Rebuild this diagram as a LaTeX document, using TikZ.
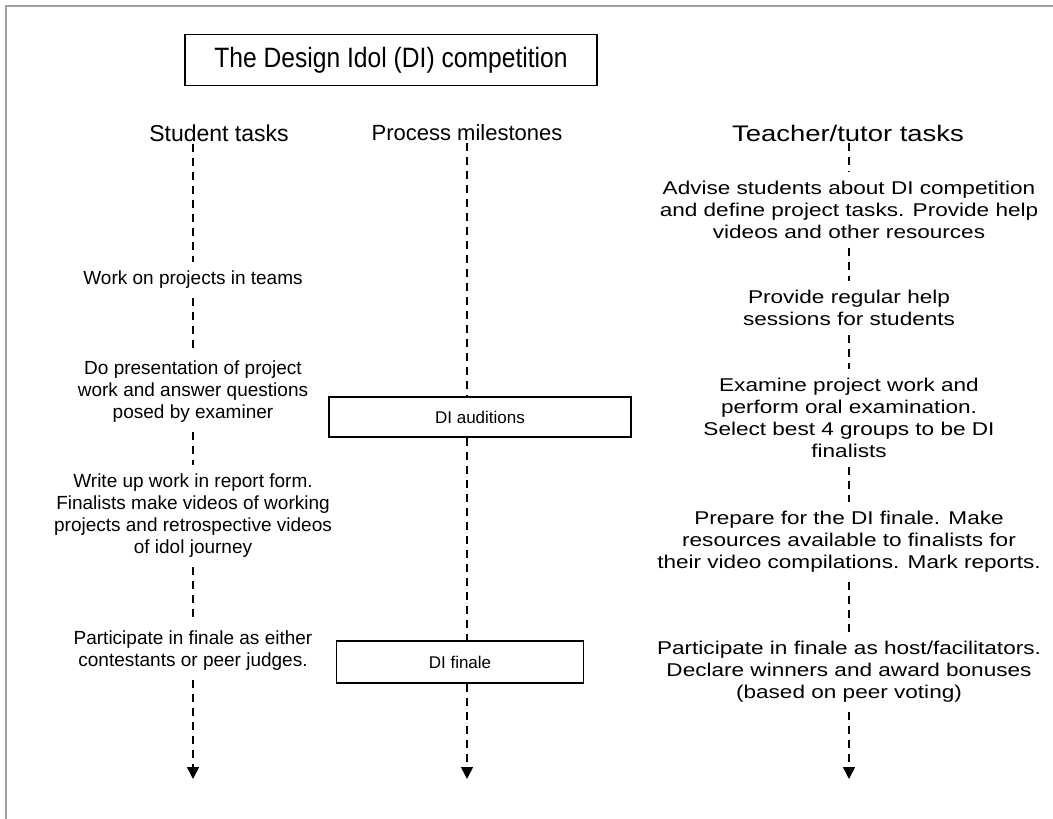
\documentclass[tikz,border=0pt]{standalone}
\usepackage{fontspec}
\setmainfont{Liberation Sans}
\newfontfamily\anchafont[FakeStretch=1.22]{Liberation Sans}
\newfontfamily\titulofont[FakeStretch=0.88]{Liberation Sans}
\usetikzlibrary{arrows.meta, positioning}
\definecolor{marco}{RGB}{160,160,160}

\begin{document}
\begin{tikzpicture}[
        x=1pt, y=-1pt,
        tarea/.style={align=center, font=\fontsize{19}{22}\selectfont, inner xsep=2pt, inner ysep=9pt},
        tareadoc/.style={tarea, font=\anchafont\fontsize{18.5}{22}\selectfont},
        cabeza/.style={font=\fontsize{23}{27}\selectfont, inner sep=2pt},
        hito/.style={draw, line width=1.5pt, minimum height=40pt, font=\fontsize{17}{22}\selectfont},
        linea/.style={line width=1.6pt, dash pattern=on 8pt off 6pt},
        flecha/.style={linea, -{Triangle[width=12pt, length=12pt]}}
    ]
    \useasboundingbox (0,0) rectangle (1053,819);
    \draw[marco, line width=2pt] (6,819) -- (6,6) -- (1053,6);

    \node[draw, line width=1.5pt, minimum width=412pt, minimum height=51pt, font=\titulofont\fontsize{28}{32}\selectfont] (titulo) at (391,60) {The Design Idol (DI) competition};

    % cabeceras
    \node[cabeza] (hest) at (219,133) {Student tasks};
    \node[cabeza, font=\fontsize{22}{27}\selectfont] (hpro) at (467,133) {Process milestones};
    \node[cabeza, font=\anchafont\fontsize{22.5}{27}\selectfont] (hdoc) at (848,133) {Teacher/tutor tasks};

    % tareas de alumnos
    \node[tarea] (work) at (193,280) {Work on projects in teams};
    \node[tarea] (pres) at (193,392) {Do presentation of project\\work and answer questions\\posed by examiner};
    \node[tarea] (repo) at (193,516) {Write up work in report form.\\Finalists make videos of working\\projects and retrospective videos\\of idol journey};
    \node[tarea] (pest) at (193,651) {Participate in finale as either\\contestants or peer judges.};
    \coordinate (fest) at (193,779);

    % hitos
    \node[hito, minimum width=302pt] (aud) at (480,417) {DI auditions};
    \node[hito, minimum width=247pt, minimum height=42pt] (fin) at (460,662) {DI finale};
    \coordinate (fpro) at (467,779);

    % tareas de docentes
    \node[tareadoc] (advi) at (849,210) {Advise students about DI competition\\and define project tasks. Provide help\\videos and other resources};
    \node[tareadoc] (help) at (849,308) {Provide regular help\\sessions for students};
    \node[tareadoc] (exam) at (849,418) {Examine project work and\\perform oral examination.\\Select best 4 groups to be DI\\finalists};
    \node[tareadoc] (prep) at (849,542) {Prepare for the DI finale. Make\\resources available to finalists for\\their video compilations. Mark reports.};
    \node[tareadoc] (pdoc) at (849,672) {Participate in finale as host/facilitators.\\Declare winners and award bonuses\\(based on peer voting)};
    \coordinate (fdoc) at (849,779);

    \draw[linea] (hest.south -| work.north) -- (work.north);
    \draw[linea] (work) -- (pres);
    \draw[linea] (pres) -- (repo);
    \draw[linea] (repo) -- (pest);
    \draw[flecha] (pest) -- (fest);

    \draw[linea] (hpro.south) -- (hpro.south |- aud.north);
    \draw[linea] (aud.south -| fpro) -- (fin.north -| fpro);
    \draw[flecha] (fin.south -| fpro) -- (fpro);

    \draw[linea] (hdoc.south -| advi.north) -- (advi.north);
    \draw[linea] (advi) -- (help);
    \draw[linea] (help) -- (exam);
    \draw[linea] (exam) -- (prep);
    \draw[linea] (prep) -- (pdoc);
    \draw[flecha] (pdoc) -- (fdoc);
\end{tikzpicture}
\end{document}
